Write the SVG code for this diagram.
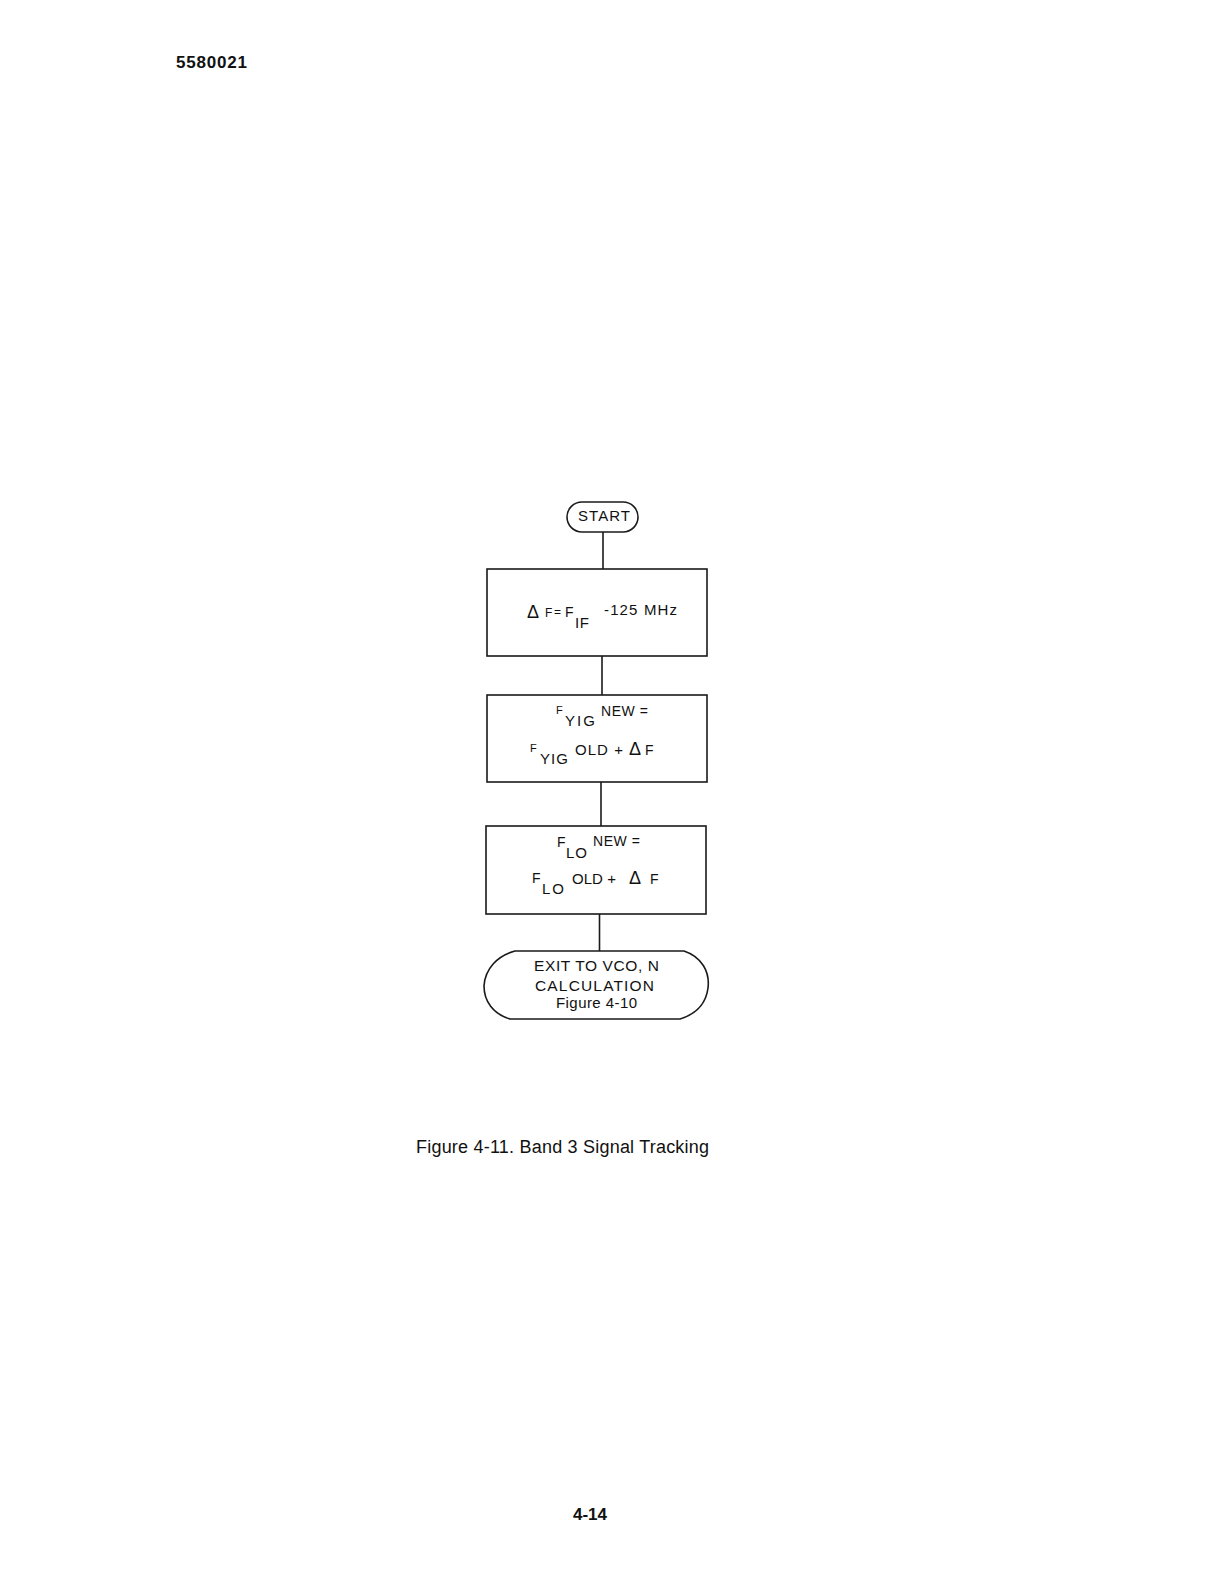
<svg xmlns="http://www.w3.org/2000/svg" width="1225" height="1587" viewBox="0 0 1225 1587">
<style>
.shape{fill:none;stroke:#1a1a1a;stroke-width:1.6}
.conn{stroke:#1a1a1a;stroke-width:1.6;fill:none}
text{font-family:"Liberation Sans",Arial,sans-serif;fill:#111}
.t{font-size:14px}
.s{font-size:11px}
.sub{font-size:15px}
.d{font-size:18px}
</style>
<rect width="1225" height="1587" fill="#fff"/>
<text x="176" y="68" font-size="17" font-weight="bold" textLength="71" lengthAdjust="spacing">5580021</text>
<g id="connectors">
<line class="conn" x1="603" y1="532" x2="603" y2="569"/>
<line class="conn" x1="602" y1="656" x2="602" y2="695"/>
<line class="conn" x1="601" y1="782" x2="601" y2="826"/>
<line class="conn" x1="599.5" y1="914" x2="599.5" y2="951"/>
</g>
<g id="start">
<rect class="shape" x="567" y="502" width="71" height="30" rx="15" ry="15"/>
<text x="578" y="521" font-size="15" textLength="52" lengthAdjust="spacing">START</text>
</g>
<g id="delta-f">
<rect class="shape" x="487" y="569" width="220" height="87"/>
<text class="d" x="527" y="618">Δ</text>
<text font-size="12" x="545" y="617">F</text>
<text font-size="12" x="554" y="616">=</text>
<text class="t" x="565" y="617">F</text>
<text class="sub" x="575" y="628" textLength="14" lengthAdjust="spacing">IF</text>
<text font-size="15" x="604" y="615" textLength="73" lengthAdjust="spacing">-125 MHz</text>
</g>
<g id="fyig">
<rect class="shape" x="487" y="695" width="220" height="87"/>
<text class="s" x="556" y="714">F</text>
<text class="sub" x="565" y="726" textLength="30" lengthAdjust="spacing">YIG</text>
<text class="t" x="601" y="716" textLength="47" lengthAdjust="spacing">NEW =</text>
<text class="s" x="530" y="752">F</text>
<text class="sub" x="540" y="764" textLength="28" lengthAdjust="spacing">YIG</text>
<text font-size="15" x="575" y="755" textLength="48" lengthAdjust="spacing">OLD +</text>
<text class="d" x="629" y="755">Δ</text>
<text class="t" x="645" y="755">F</text>
</g>
<g id="flo">
<rect class="shape" x="486" y="826" width="220" height="88"/>
<text class="t" x="557" y="847">F</text>
<text class="sub" x="566" y="858" textLength="21" lengthAdjust="spacing">LO</text>
<text class="t" x="593" y="846" textLength="47" lengthAdjust="spacing">NEW =</text>
<text class="t" x="532" y="883">F</text>
<text class="sub" x="542" y="894" textLength="22" lengthAdjust="spacing">LO</text>
<text font-size="15" x="572" y="884" textLength="44" lengthAdjust="spacing">OLD +</text>
<text class="d" x="629" y="884">Δ</text>
<text class="t" x="650" y="884">F</text>
</g>
<g id="exit">
<path class="shape" d="M 515 951 L 684 951 C 702 957, 710 972, 708 988 C 706 1004, 696 1014, 680 1019 L 510 1019 C 493 1014, 484 1001, 484 986 C 485 969, 497 956, 515 951 Z"/>
<text x="534" y="971" font-size="15.5" textLength="125" lengthAdjust="spacing">EXIT TO VCO, N</text>
<text x="535" y="991" font-size="15.5" textLength="119" lengthAdjust="spacing">CALCULATION</text>
<text x="556" y="1008" font-size="15" textLength="81" lengthAdjust="spacing">Figure 4-10</text>
</g>
<text x="416" y="1153" font-size="18" textLength="293" lengthAdjust="spacing">Figure 4-11.  Band 3 Signal Tracking</text>
<text x="573" y="1520" font-size="17" font-weight="bold">4-14</text>
</svg>
